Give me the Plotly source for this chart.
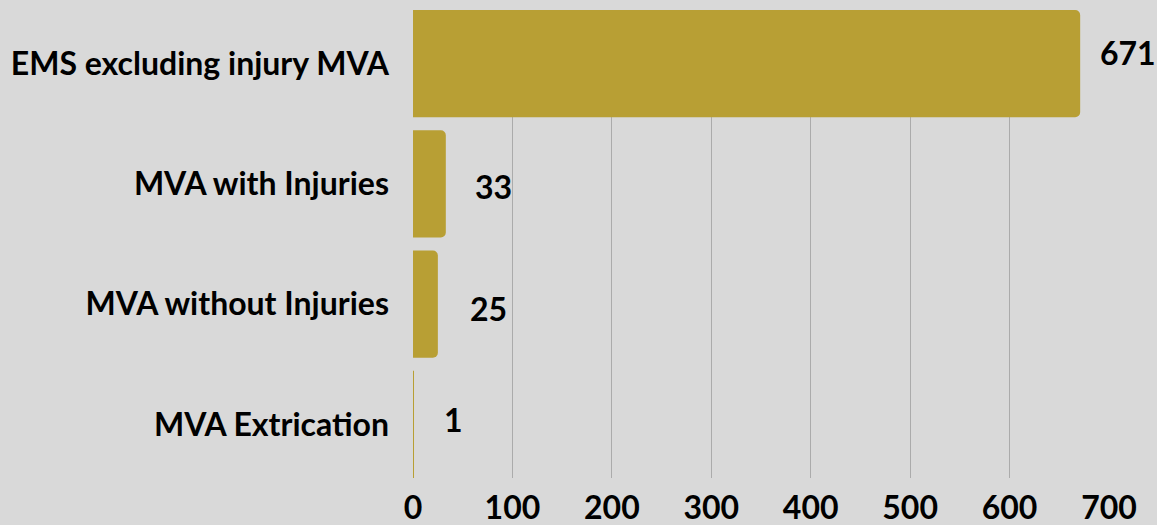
import plotly.graph_objects as go

categories = ["EMS excluding injury MVA", "MVA with Injuries", "MVA without Injuries", "MVA Extrication"]
values = [671, 33, 25, 1]
tick_vals = [0, 100, 200, 300, 400, 500, 600, 700]
tick_text = ["0", "100", "200", "300", "400", "500", "600", "700"]

# label offsets (style only)
label_xshift = [18, 27, 30, 28]
label_yshift = [11, -3, -4, 5]

BAR = "#b89f34"
BG = "#d9d9d9"
FONT = dict(family="Lato", size=32, color="#000000", weight="bold")

fig = go.Figure()
fig.add_trace(go.Bar(
    x=values, y=categories, orientation="h",
    marker=dict(color=BAR, line=dict(width=0)),
    hoverinfo="x+y",
))

for c, v, xs, ys in zip(categories, values, label_xshift, label_yshift):
    fig.add_annotation(x=v, y=c, text=str(v), showarrow=False,
                       xanchor="left", yanchor="middle", xshift=xs, yshift=ys,
                       font=FONT)

gap = 0.108
half = (1 - gap) / 2
fig.update_layout(
    width=1157, height=525,
    margin=dict(l=413, r=48, t=10, b=47, autoexpand=False),
    paper_bgcolor=BG, plot_bgcolor=BG,
    bargap=gap,
    barcornerradius=5,
    showlegend=False,
    font=FONT,
    xaxis=dict(range=[0, 700], tickvals=tick_vals, ticktext=tick_text,
               showgrid=True, gridcolor="#ababab", gridwidth=1,
               zeroline=False, showline=False, ticks="",
               tickfont=FONT, ticklabelstandoff=8, fixedrange=True),
    yaxis=dict(range=[len(categories) - 1 + half, -half],
               showgrid=False, zeroline=False, showline=False, ticks="",
               tickfont=FONT, ticklabelstandoff=23, fixedrange=True),
)

fig.write_html("out.html", config={"displayModeBar": False},
               post_script="document.body.style.margin='0';document.body.style.overflow='hidden';")
